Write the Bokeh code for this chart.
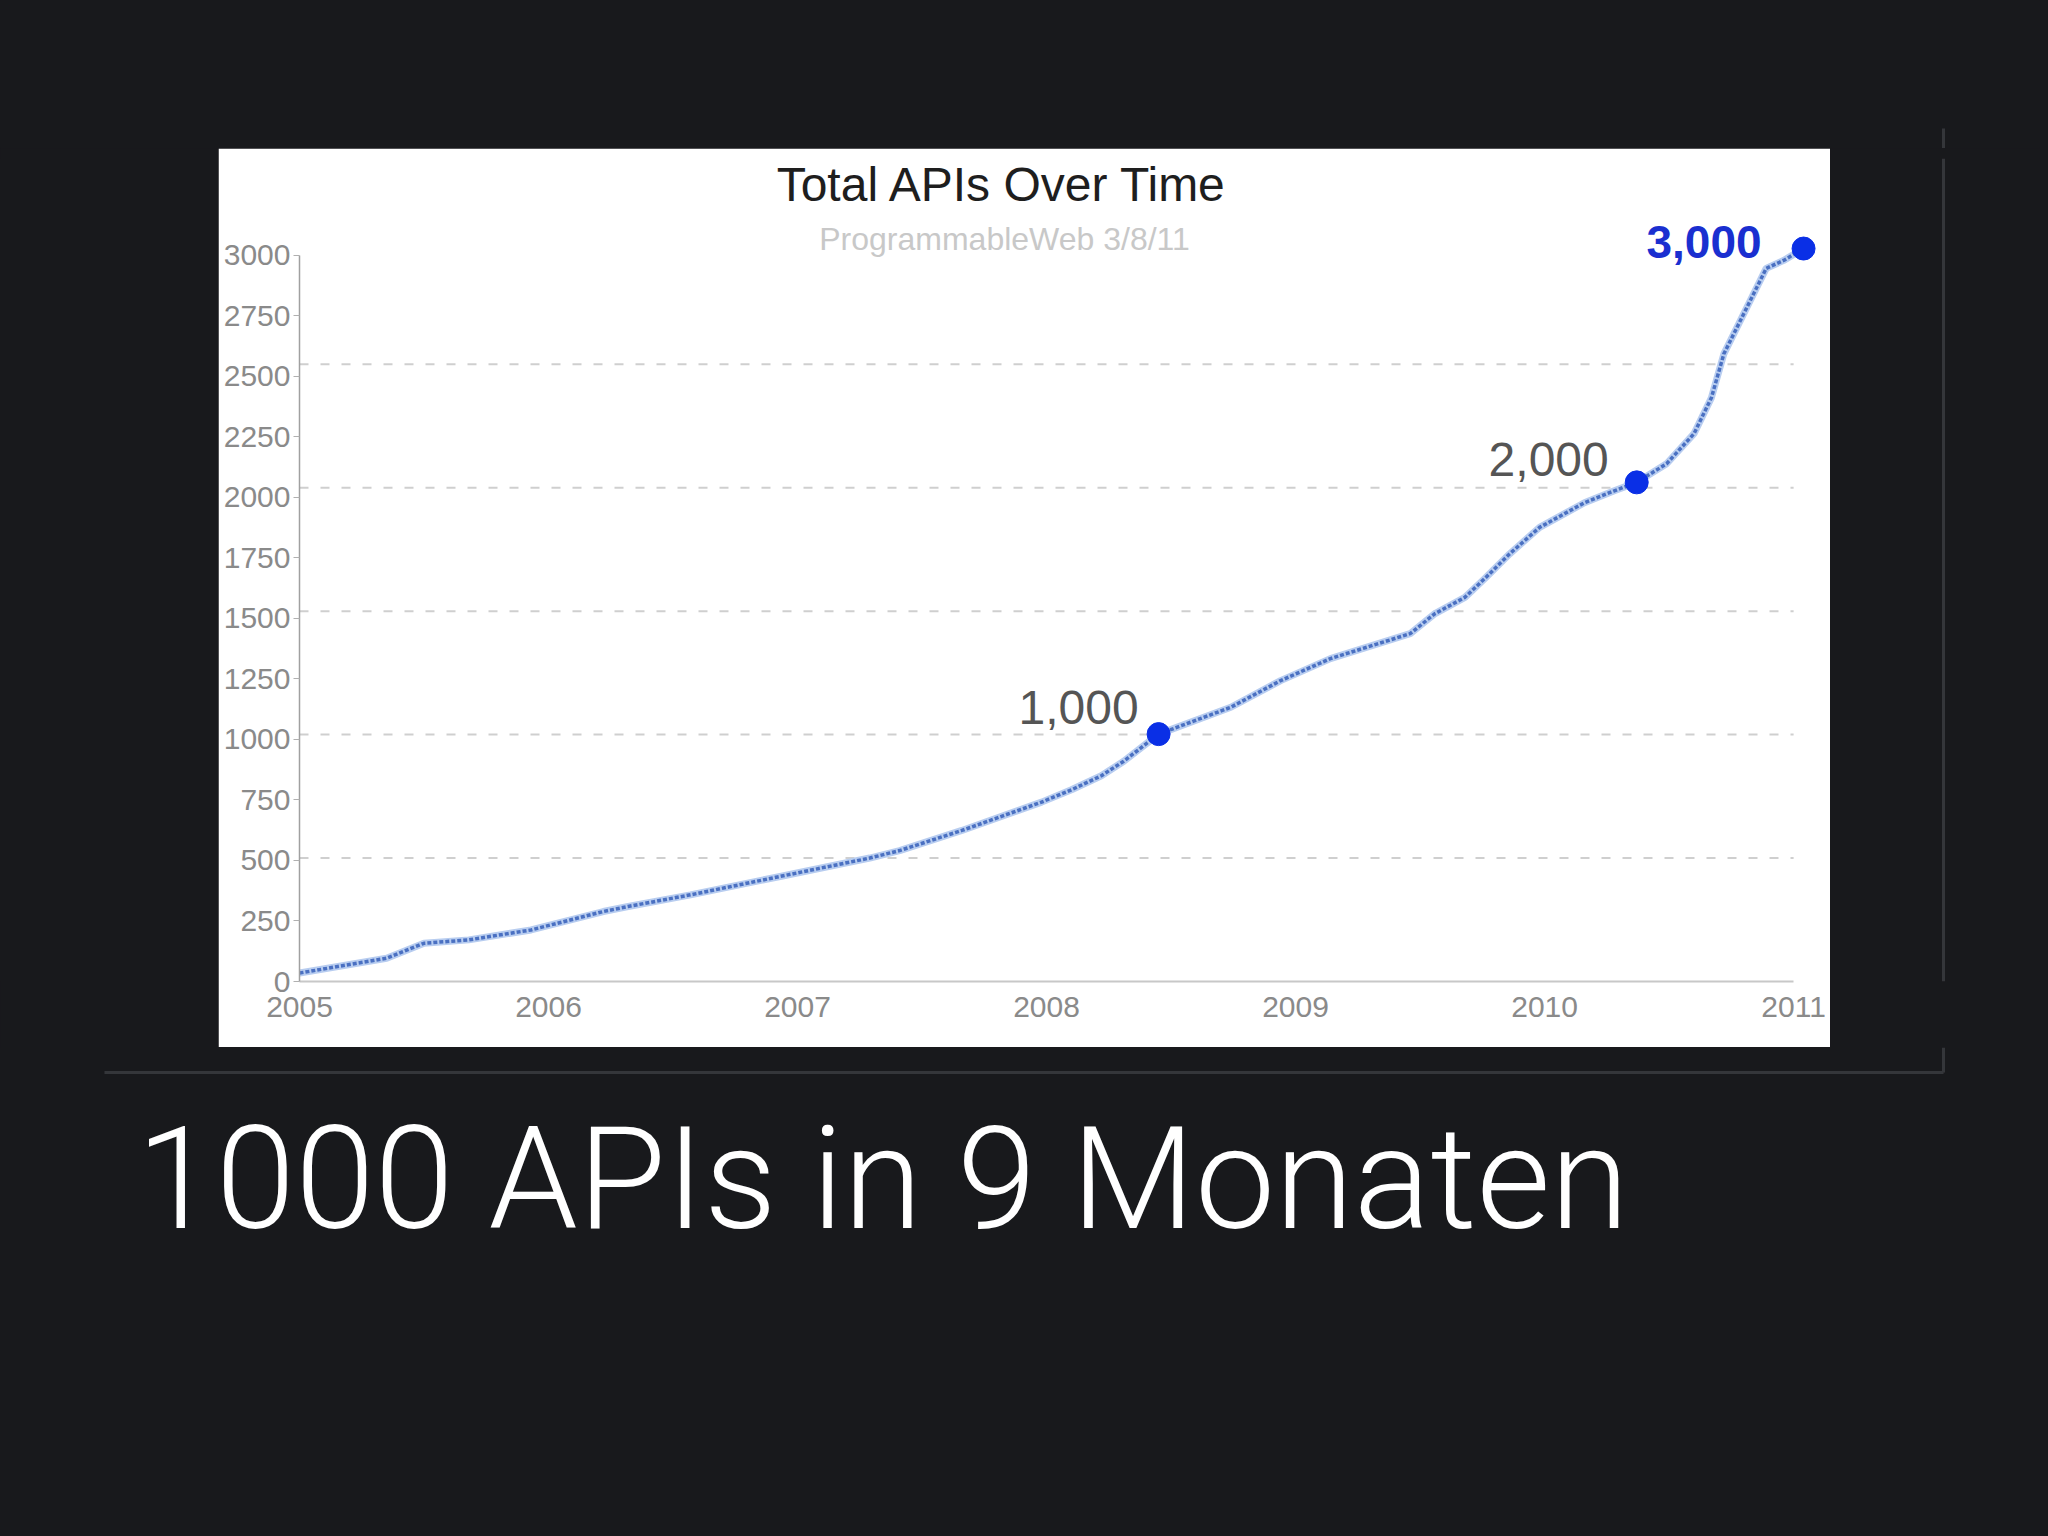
from bokeh.plotting import figure
from bokeh.layouts import column, row
from bokeh.models import Range1d, FixedTicker, Label, GlobalInlineStyleSheet
from bokeh.core.properties import value
from bokeh.embed import file_html
from bokeh.resources import INLINE

# ---------------- data ----------------
years = [2005.00, 2005.35, 2005.50, 2005.68, 2005.93, 2006.22, 2006.32, 2006.57,
         2006.93, 2007.29, 2007.41, 2007.66, 2007.98, 2008.10, 2008.22, 2008.31,
         2008.45, 2008.74, 2008.94, 2009.14, 2009.46, 2009.56, 2009.68, 2009.76,
         2009.86, 2009.98, 2010.16, 2010.28, 2010.37, 2010.49, 2010.60, 2010.67,
         2010.72, 2010.76, 2010.84, 2010.89, 2010.96, 2011.04]
apis = [35, 96, 158, 172, 213, 289, 310, 358,
        434, 510, 541, 624, 741, 792, 850, 910,
        1022, 1133, 1243, 1334, 1437, 1520, 1587, 1665,
        1767, 1876, 1978, 2027, 2062, 2139, 2263, 2412,
        2593, 2676, 2842, 2946, 2979, 3028]

milestone_years = [2008.45, 2010.37, 2011.04]
milestone_apis = [1022, 2062, 3028]
milestone_labels = ["1,000", "2,000", "3,000"]

year_ticks = [2005, 2006, 2007, 2008, 2009, 2010, 2011]
api_ticks = [0, 250, 500, 750, 1000, 1250, 1500, 1750, 2000, 2250, 2500, 2750, 3000]
grid_values = [510, 1020, 1530, 2040, 2550]

chart_title = "Total APIs Over Time"
chart_subtitle = "ProgrammableWeb 3/8/11"
caption = "1000 APIs in 9 Monaten"

# ---------------- styling ----------------
BG = "#18191c"
EDGE = "#34363a"
TOTAL_W = 2040
TOTAL_H = 1530
TOP_H = 148
MID_H = 899
LEFT_W = 218
CHART_W = 1612
RIGHT_W = TOTAL_W - LEFT_W - CHART_W
BOTTOM_H = TOTAL_H - TOP_H - MID_H


def filler(w, h):
    f = figure(width=w, height=h, x_range=Range1d(0, w), y_range=Range1d(0, h),
               toolbar_location=None, output_backend="svg", min_border=0,
               x_axis_location=None, y_axis_location=None,
               background_fill_color=BG, border_fill_color=BG)
    f.outline_line_color = BG
    f.grid.visible = False
    return f


# ---------------- chart ----------------
p = figure(width=CHART_W, height=MID_H,
           x_range=Range1d(2005, 2011.1), y_range=Range1d(0, 3400),
           toolbar_location=None, output_backend="svg",
           min_border_left=81, min_border_right=12,
           min_border_top=10, min_border_bottom=66,
           background_fill_color="white", border_fill_color="white")
p.outline_line_color = "white"
p.outline_line_width = 3
p.grid.visible = False

p.xaxis.ticker = FixedTicker(ticks=year_ticks)
p.yaxis.ticker = FixedTicker(ticks=api_ticks)
p.xaxis.bounds = (year_ticks[0], year_ticks[-1])
p.yaxis.bounds = (api_ticks[0], api_ticks[-1])
for ax in (p.xaxis[0], p.yaxis[0]):
    ax.major_label_text_font = "Liberation Sans"
    ax.major_label_text_font_size = "30px"
    ax.major_label_text_color = "#8a8a8a"
    ax.minor_tick_line_color = None
p.xaxis.axis_line_color = "#c8c8c8"
p.xaxis.axis_line_width = 2
p.xaxis.major_tick_line_color = None
p.xaxis.major_label_standoff = 9
p.yaxis.axis_line_color = "#a0a0a0"
p.yaxis.axis_line_width = 1.5
p.yaxis.major_tick_line_color = "#b0b0b0"
p.yaxis.major_tick_out = 6
p.yaxis.major_tick_in = 0
p.yaxis.major_label_standoff = 3

# dashed horizontal grid
p.segment(x0=year_ticks[0], x1=year_ticks[-1], y0=grid_values, y1=grid_values,
          line_color="#cfcfcf", line_width=2, line_dash="9 12")

# the series: light band + short dark dashes
p.line(years, apis, line_color="#b8cdf0", line_width=7)
p.line(years, apis, line_color="#4a70c2", line_width=3.5, line_dash="4 2")

# milestone points
p.scatter(milestone_years, milestone_apis, size=23,
          fill_color="#0a2fe6", line_color="#0a2fe6")

# milestone labels
p.text(x=milestone_years[:1], y=milestone_apis[:1], text=milestone_labels[:1],
       x_offset=-20, y_offset=-27, text_align="right", text_baseline="middle",
       text_font=value("Liberation Sans"), text_font_size="48px",
       text_color="#555555")
p.text(x=milestone_years[1:2], y=milestone_apis[1:2], text=milestone_labels[1:2],
       x_offset=-28, y_offset=-23, text_align="right", text_baseline="middle",
       text_font=value("Liberation Sans"), text_font_size="48px",
       text_color="#555555")
p.text(x=milestone_years[2:], y=milestone_apis[2:], text=milestone_labels[2:],
       x_offset=-42, y_offset=-7, text_align="right", text_baseline="middle",
       text_font=value("Liberation Sans"), text_font_size="46px",
       text_font_style="bold", text_color="#1a2fd0")

p.add_layout(Label(x=703, y=797, x_units="screen", y_units="screen",
                   text=chart_title, text_align="center", text_baseline="middle",
                   text_font="Liberation Sans", text_font_size="48px",
                   text_color="#1e1e1e"))
p.add_layout(Label(x=705, y=743, x_units="screen", y_units="screen",
                   text=chart_subtitle, text_align="center", text_baseline="middle",
                   text_font="Liberation Sans", text_font_size="32px",
                   text_color="#c8c8c8"))

# ---------------- surrounding slide ----------------
top = filler(TOTAL_W, TOP_H)
top.segment(x0=[1943], y0=[0], x1=[1943], y1=[20], line_color=EDGE, line_width=3)

left = filler(LEFT_W, MID_H)
left.segment(x0=[0], y0=[0], x1=[0], y1=[0], line_color=BG, line_width=0)

right = filler(RIGHT_W, MID_H)
right.segment(x0=[113], y0=[0], x1=[113], y1=[MID_H], line_color=EDGE, line_width=3)

bottom = filler(TOTAL_W, BOTTOM_H)
bottom.segment(x0=[1943, 104], y0=[BOTTOM_H, BOTTOM_H - 25], x1=[1943, 1943],
               y1=[BOTTOM_H - 25, BOTTOM_H - 25], line_color=EDGE, line_width=3)
bottom.text(x=[136], y=[BOTTOM_H - 131], text=[caption], text_font=value("Roboto Light"),
            text_font_size="143px", text_color="white", text_baseline="alphabetic")

layout = column(top, row(left, p, right), bottom,
                stylesheets=[GlobalInlineStyleSheet(css="body { background: #18191c; }")])

open("out.html", "w").write(file_html(layout, INLINE))
